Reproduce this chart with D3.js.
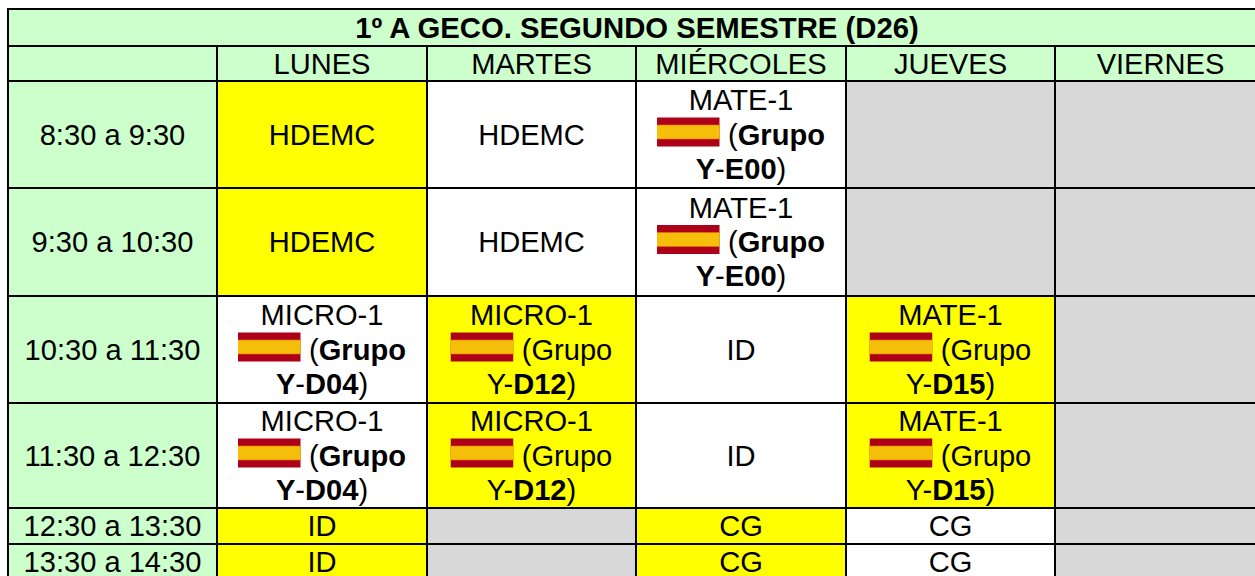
<!DOCTYPE html>
<html>
<head>
<meta charset="utf-8">
<script src="https://cdn.jsdelivr.net/npm/d3@7"></script>
<style>
    html, body { margin: 0; padding: 0; background: #fff; overflow: hidden; }
    svg { display: block; }
    text { font-family: "Liberation Sans", Arial, sans-serif; fill: #000; }
</style>
</head>
<body>
<svg id="timetable" width="1255" height="576"></svg>
<script>
var title = "1º A GECO. SEGUNDO SEMESTRE (D26)";
var days = ["LUNES", "MARTES", "MIÉRCOLES", "JUEVES", "VIERNES"];
var hours = ["8:30 a 9:30", "9:30 a 10:30", "10:30 a 11:30", "11:30 a 12:30", "12:30 a 13:30", "13:30 a 14:30"];

// one row per hour, one entry per day. "|" breaks a line, *x* is bold, ~ is the flag
var subjects = [
    ["HDEMC", "HDEMC", "MATE-1|~(*Grupo*|*Y*-*E00*)", "", ""],
    ["HDEMC", "HDEMC", "MATE-1|~(*Grupo*|*Y*-*E00*)", "", ""],
    ["MICRO-1|~(*Grupo*|*Y*-*D04*)", "MICRO-1|~(Grupo|Y-*D12*)", "ID", "MATE-1|~(Grupo|Y-*D15*)", ""],
    ["MICRO-1|~(*Grupo*|*Y*-*D04*)", "MICRO-1|~(Grupo|Y-*D12*)", "ID", "MATE-1|~(Grupo|Y-*D15*)", ""],
    ["ID", "", "CG", "CG", ""],
    ["ID", "", "CG", "CG", ""]
];
var cellKinds = [
    ["yellow", "white", "white", "empty", "empty"],
    ["yellow", "white", "white", "empty", "empty"],
    ["white", "yellow", "white", "yellow", "empty"],
    ["white", "yellow", "white", "yellow", "empty"],
    ["yellow", "empty", "yellow", "white", "empty"],
    ["yellow", "empty", "yellow", "white", "empty"]
];

var settings = {
    fontSize: 29.1,
    titleSize: 29.3,
    lineHeight: 34.2,
    baselineShift: 10,
    lineWidth: 2,
    flagWidth: 62.5,
    flagHeight: 29,
    flagGap: 8.5
};

var colors = {
    header: "#CCFFCC",
    yellow: "#FFFF00",
    white: "#FFFFFF",
    empty: "#D8D8D8",
    flagRed: "#AD0019",
    flagGold: "#F5BE0A",
    flagEdge: "#EE8A12"
};

// column 0 holds the hours, row 0 the title, row 1 the days
var x = d3.scaleLinear()
    .domain([0, 1, 2, 3, 4, 5, 6])
    .range([8, 217, 427, 636, 846, 1055, 1266]);
var y = d3.scaleLinear()
    .domain([0, 1, 2, 3, 4, 5, 6, 7, 8])
    .range([9, 46, 81, 188, 296, 403, 508, 544, 580]);

var svg = d3.select("#timetable");

var cells = [];
cells.push({ col: 0, row: 0, span: 6, text: "*" + title + "*", fill: colors.header, size: settings.titleSize });
cells.push({ col: 0, row: 1, span: 1, text: "", fill: colors.header });
days.forEach((day, i) => {
    cells.push({ col: i + 1, row: 1, span: 1, text: day, fill: colors.header });
});
hours.forEach((hour, r) => {
    cells.push({ col: 0, row: r + 2, span: 1, text: hour, fill: colors.header });
    days.forEach((day, c) => {
        cells.push({ col: c + 1, row: r + 2, span: 1, text: subjects[r][c], fill: colors[cellKinds[r][c]] });
    });
});

svg.selectAll(".cell")
    .data(cells)
    .enter()
    .append("rect")
    .classed("cell", true)
    .attr("x", d => x(d.col))
    .attr("y", d => y(d.row))
    .attr("width", d => x(d.col + d.span) - x(d.col))
    .attr("height", d => y(d.row + 1) - y(d.row))
    .attr("fill", d => d.fill)
    .attr("stroke", "#000")
    .attr("stroke-width", settings.lineWidth);

var labels = svg.selectAll(".label")
    .data(cells.filter(d => d.text !== ""))
    .enter()
    .append("g")
    .classed("label", true);

labels.each(function (d) {
    var group = d3.select(this);
    var lines = d.text.split("|");
    var centerX = (x(d.col) + x(d.col + d.span)) / 2;
    var centerY = (y(d.row) + y(d.row + 1)) / 2;

    lines.forEach((line, i) => {
        var baseline = centerY + settings.baselineShift + (i - (lines.length - 1) / 2) * settings.lineHeight;
        var hasFlag = line.charAt(0) === "~";
        var label = group.append("text")
            .attr("y", baseline)
            .attr("font-size", d.size || settings.fontSize);

        // odd pieces of the split sit between asterisks
        line.replace("~", "").split("*").forEach((piece, p) => {
            if (piece === "") return;
            label.append("tspan")
                .attr("font-weight", p % 2 ? "bold" : "normal")
                .text(piece);
        });

        var textWidth = label.node().getComputedTextLength();
        var flagSpace = hasFlag ? settings.flagWidth + settings.flagGap : 0;
        var startX = centerX - (textWidth + flagSpace) / 2;
        label.attr("x", startX + flagSpace);

        if (hasFlag) drawFlag(group, startX, baseline + 2 - settings.flagHeight);
    });
});

function drawFlag(group, left, top) {
    var stripes = d3.scaleLinear().domain([0, 4]).range([top, top + settings.flagHeight]);
    var bands = [
        { from: 0, to: 4, fill: colors.flagRed },
        { from: 1, to: 3, fill: colors.flagEdge },
        { from: 1.1, to: 2.9, fill: colors.flagGold }
    ];
    group.selectAll(null)
        .data(bands)
        .enter()
        .append("rect")
        .attr("x", left)
        .attr("y", b => stripes(b.from))
        .attr("width", settings.flagWidth)
        .attr("height", b => stripes(b.to) - stripes(b.from))
        .attr("fill", b => b.fill);
}
</script>
</body>
</html>
